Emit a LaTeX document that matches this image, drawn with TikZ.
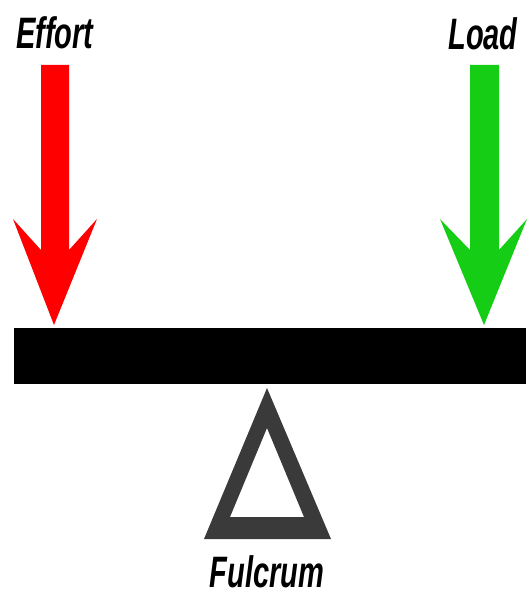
\documentclass[tikz,border=0pt]{standalone}
\usepackage{fontspec}
\setmainfont{Liberation Sans}
\definecolor{effortred}{RGB}{255,0,0}
\definecolor{loadgreen}{RGB}{20,205,20}
\definecolor{fulcgray}{RGB}{58,58,58}
\begin{document}
\begin{tikzpicture}[x=1pt,y=-1pt,
  lbl/.style={font=\fontsize{44}{44}\selectfont\bfseries\itshape, inner sep=0pt, xscale=0.66},
  beambox/.style={fill=black, draw=none, minimum width=512pt, minimum height=56pt, inner sep=0pt}]
\useasboundingbox (0,0) rectangle (528,599);
\fill[white] (0,0) rectangle (528,599);
% beam
\node[beambox] (beam) at (270,356) {};
% effort arrow
\fill[effortred] (41,65) -- (69,65) -- (69,250) -- (97,219) -- (54,325) -- (13,219) -- (41,250) -- cycle;
% load arrow
\fill[loadgreen] (470,65) -- (499,65) -- (499,250) -- (527,219) -- (484,325) -- (440,219) -- (470,250) -- cycle;
% fulcrum
\fill[fulcgray, even odd rule] (267,388) -- (331,539) -- (204,539) -- cycle
  (267,428) -- (304,517) -- (230,517) -- cycle;
% labels
\node[lbl] (effort) at (55,33) {Effort};
\node[lbl] (load) at (483,34) {Load};
\node[lbl] (fulcrum) at (267,572) {Fulcrum};
\end{tikzpicture}
\end{document}
